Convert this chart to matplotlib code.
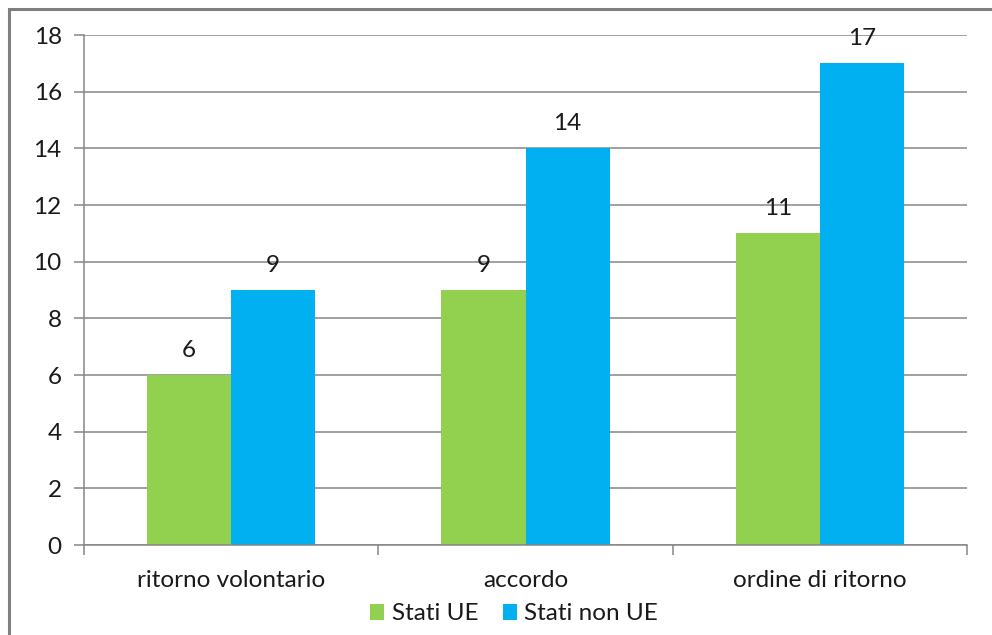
import matplotlib
matplotlib.use("Agg")
import matplotlib.pyplot as plt
from matplotlib.patches import Rectangle
import numpy as np

categories = ["ritorno volontario", "accordo", "ordine di ritorno"]
series_names = ["Stati UE", "Stati non UE"]
stati_ue = [6, 9, 11]
stati_non_ue = [9, 14, 17]
y_ticks = [0, 2, 4, 6, 8, 10, 12, 14, 16, 18]

GREEN = "#92D050"
BLUE = "#00B0F0"
GRID = "#868686"
TEXT = "#1A1A1A"
FS = 17.5

plt.rcParams["font.family"] = ["Lato", "DejaVu Sans"]

W, H = 992, 635
fig = plt.figure(figsize=(W / 100, H / 100), dpi=100)
ax = fig.add_axes([84 / W, 1 - 545 / H, (967 - 84) / W, (545 - 35) / H])

x = np.arange(len(categories))
bw = 1 / 3.5
b1 = ax.bar(x - bw / 2, stati_ue, bw, color=GREEN, label=series_names[0], zorder=3)
b2 = ax.bar(x + bw / 2, stati_non_ue, bw, color=BLUE, label=series_names[1], zorder=3)

for bars, vals in ((b1, stati_ue), (b2, stati_non_ue)):
    for r, v in zip(bars, vals):
        ax.annotate(f"{v}", (r.get_x() + r.get_width() / 2, v), xytext=(0, 10),
                    textcoords="offset points", ha="center", va="bottom",
                    fontsize=FS, color=TEXT, zorder=4)

ax.set_xlim(-0.5, 2.5)
ax.set_ylim(0, 18)
ax.set_yticks(y_ticks)
ax.yaxis.grid(True, color=GRID, linewidth=1.1, zorder=0)
ax.set_axisbelow(True)

for s in ("top", "right"):
    ax.spines[s].set_visible(False)
for s in ("left", "bottom"):
    ax.spines[s].set_color(GRID)
    ax.spines[s].set_linewidth(1.1)
    ax.spines[s].set_zorder(5)

ax.tick_params(axis="y", length=7, width=1.1, color=GRID, labelsize=FS,
               labelcolor=TEXT, pad=9)
ax.set_xticks(x)
ax.set_xticklabels(categories)
ax.tick_params(axis="x", length=0, labelsize=FS, labelcolor=TEXT, pad=18)
ax.set_xticks([-0.5, 0.5, 1.5, 2.5], minor=True)
ax.tick_params(axis="x", which="minor", length=7, width=1.1, color=GRID)

fig.legend(handles=[b1, b2], labels=series_names, loc="center",
           bbox_to_anchor=(514 / W, 1 - 614 / H), ncol=2, frameon=False,
           fontsize=FS, handlelength=0.6, handleheight=0.6, handletextpad=0.3,
           columnspacing=1.0, labelcolor=TEXT)

fig.patches.append(Rectangle((9 / W, -0.1), 1.2, 1 - 9 / H + 0.1,
                             transform=fig.transFigure, fill=False,
                             edgecolor="#7F7F7F", linewidth=2.2))

fig.savefig("out.png", dpi=100, facecolor="white")
